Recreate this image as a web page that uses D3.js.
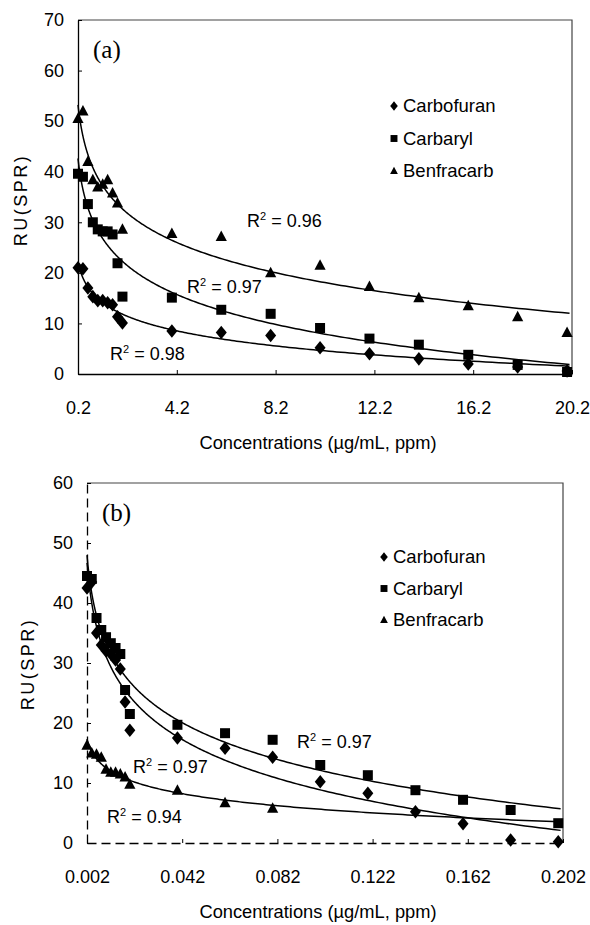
<!DOCTYPE html>
<html>
<head>
<meta charset="utf-8">
<script src="https://cdn.jsdelivr.net/npm/d3@7"></script>
<style>
  body { margin: 0; background: #fff; }
  svg { display: block; font-family: "Liberation Sans", Arial, sans-serif; }
</style>
</head>
<body>
<svg id="chart" width="590" height="925"></svg>
<script>
// ---- data ----
// panel (a), concentrations in ug/mL
const concA = [0.2, 0.4, 0.6, 0.8, 1.0, 1.2, 1.4, 1.6, 1.8, 2.0, 4, 6, 8, 10, 12, 14, 16, 18, 20];
const carbofuranA = [21, 20.8, 17, 15.3, 14.5, 14.5, 14.1, 13.7, 11.3, 10.1, 8.5, 8.2, 7.6, 5.2, 4.0, 3.0, 2.0, 1.4, 0.6];
const carbarylA = [39.6, 39, 33.6, 30, 28.6, 28.2, 28.2, 27.6, 21.9, 15.3, 15.1, 12.7, 11.9, 9.1, 7.0, 5.8, 3.8, 1.8, 0.4];
const benfracarbA = [50.5, 52, 42, 38.4, 37, 37.5, 38.4, 35.8, 33.8, 28.6, 27.8, 27.2, 20, 21.5, 17.3, 15.1, 13.5, 11.3, 8.2];
const xTicksA = [0.2, 4.2, 8.2, 12.2, 16.2, 20.2];
const yTicksA = [0, 10, 20, 30, 40, 50, 60, 70];

// panel (b)
const concB = [0.002, 0.004, 0.006, 0.008, 0.010, 0.012, 0.014, 0.016, 0.018, 0.020, 0.04, 0.06, 0.08, 0.10, 0.12, 0.14, 0.16, 0.18, 0.20];
const carbofuranB = [42.5, 43.5, 35, 33, 32, 31.5, 30.5, 29, 23.5, 18.8, 17.5, 15.8, 14.3, 10.2, 8.3, 5.2, 3.2, 0.5, 0.2];
const carbarylB = [44.5, 44, 37.5, 35.5, 34.3, 33.3, 32.5, 31.5, 25.5, 21.5, 19.7, 18.3, 17.2, 13, 11.3, 8.8, 7.2, 5.5, 3.3];
const benfracarbB = [16.3, 15, 14.8, 14.3, 12.3, 11.8, 11.8, 11.5, 11, 9.8, 8.8, 6.7, 5.8];
const xTicksB = [0.002, 0.042, 0.082, 0.122, 0.162, 0.202];
const yTicksB = [0, 10, 20, 30, 40, 50, 60];

const seriesNames = ["Carbofuran", "Carbaryl", "Benfracarb"];
const r2A = ["0.98", "0.97", "0.96"];
const r2B = ["0.97", "0.97", "0.94"];

// ---- marker shapes ----
const diamond = {
  draw(ctx, size) {
    const s = Math.sqrt(size), w = s * 0.55, h = s * 0.68;
    ctx.moveTo(0, -h); ctx.lineTo(w, 0); ctx.lineTo(0, h); ctx.lineTo(-w, 0); ctx.closePath();
  }
};
const square = {
  draw(ctx, size) {
    const h = Math.sqrt(size) / 2;
    ctx.rect(-h, -h, 2 * h, 2 * h);
  }
};
const triangle = {
  draw(ctx, size) {
    const s = Math.sqrt(size);
    ctx.moveTo(0, -s * 0.6); ctx.lineTo(s * 0.56, s * 0.45); ctx.lineTo(-s * 0.56, s * 0.45); ctx.closePath();
  }
};
const shapes = [diamond, square, triangle];

// Excel style logarithmic trendline: y = a + b ln(x)
function logFit(xs, ys) {
  const lx = xs.map(Math.log);
  const mx = d3.mean(lx), my = d3.mean(ys);
  const b = d3.sum(lx, (l, i) => (l - mx) * (ys[i] - my)) / d3.sum(lx, l => (l - mx) * (l - mx));
  const a = my - b * mx;
  return x => a + b * Math.log(x);
}

const svg = d3.select("#chart");

function drawPanel(p) {
  const x = d3.scaleLinear().domain(p.xDomain).range(p.xRange);
  const y = d3.scaleLinear().domain(p.yDomain).range(p.yRange);
  const g = svg.append("g");

  // frame top / right
  g.append("path")
    .attr("d", `M${p.xRange[0]},${p.yRange[1]}H${p.xRange[1]}V${p.yRange[0]}`)
    .attr("fill", "none").attr("stroke", "#444").attr("stroke-width", 1.2);

  const xAxis = d3.axisBottom(x).tickValues(p.xTicks).tickSizeInner(-4).tickSizeOuter(0)
    .tickPadding(27).tickFormat(d => d3.format(p.xFmt)(d));
  const yAxis = d3.axisLeft(y).tickValues(p.yTicks).tickSizeInner(-4).tickSizeOuter(0)
    .tickPadding(14);

  const gx = g.append("g").attr("transform", `translate(0,${p.yRange[0]})`).call(xAxis);
  const gy = g.append("g").attr("transform", `translate(${p.xRange[0]},0)`).call(yAxis);
  [gx, gy].forEach(a => {
    a.select(".domain").attr("stroke", "#000").attr("stroke-width", 1.3)
      .attr("stroke-dasharray", p.dashed ? "9,5" : null);
    a.selectAll(".tick line").attr("stroke", "#000");
    a.selectAll(".tick text").attr("font-size", 18).attr("fill", "#000")
      .attr("font-family", "'Liberation Sans', Arial, sans-serif");
  });

  // axis titles
  g.append("text")
    .attr("x", 318).attr("y", p.yRange[0] + 75)
    .attr("text-anchor", "middle").attr("font-size", 18.3)
    .text("Concentrations (\u00b5g/mL, ppm)");
  g.append("text")
    .attr("transform", `translate(${p.yLabelX},${p.yLabelY}) rotate(-90)`)
    .attr("text-anchor", "middle").attr("font-size", 18).attr("letter-spacing", 2.5)
    .text("RU(SPR)");

  // panel letter
  g.append("text")
    .attr("x", p.letterPos[0]).attr("y", p.letterPos[1])
    .attr("font-family", "'Liberation Serif', 'Times New Roman', serif").attr("font-size", 25)
    .text(p.letter);

  // trendlines
  const line = d3.line().x(d => x(d[0])).y(d => y(d[1]));
  const x0 = p.xDomain[0], x1 = p.xDomain[1] - (p.xDomain[1] - p.xDomain[0]) * 0.005;
  const xs = d3.range(300).map(i => x0 * Math.pow(x1 / x0, i / 299));
  p.series.forEach(vals => {
    const f = logFit(p.conc.slice(0, vals.length), vals);
    g.append("path")
      .attr("d", line(xs.map(v => [v, f(v)])))
      .attr("fill", "none").attr("stroke", "#000").attr("stroke-width", 1.5);
  });

  // markers
  p.series.forEach((vals, si) => {
    g.append("g").selectAll("path")
      .data(vals)
      .join("path")
      .attr("transform", (d, i) => `translate(${x(p.conc[i])},${y(d)})`)
      .attr("d", d3.symbol().type(shapes[si]).size(100))
      .attr("fill", "#000");
  });

  // R^2 labels
  p.r2.forEach((r, i) => {
    const t = g.append("text")
      .attr("x", p.r2Pos[i][0]).attr("y", p.r2Pos[i][1])
      .attr("font-size", 18);
    t.append("tspan").text("R");
    t.append("tspan").attr("font-size", 11).attr("dy", -7).text("2");
    t.append("tspan").attr("dy", 7).text(" = " + r);
  });

  // legend
  const lg = g.append("g");
  seriesNames.forEach((name, i) => {
    const yy = p.legendPos[1] + i * p.legendStep;
    lg.append("path")
      .attr("transform", `translate(${p.legendPos[0]},${yy})`)
      .attr("d", d3.symbol().type(shapes[i]).size(48))
      .attr("fill", "#000");
    lg.append("text")
      .attr("x", p.legendPos[0] + 9).attr("y", yy).attr("dy", "0.35em")
      .attr("font-size", 18.5).text(name);
  });
}

drawPanel({
  xDomain: [0.2, 20.2], yDomain: [0, 70],
  xRange: [78, 572], yRange: [374, 20],
  xTicks: xTicksA, yTicks: yTicksA, xFmt: ".1f",
  conc: concA, series: [carbofuranA, carbarylA, benfracarbA],
  r2: r2A, r2Pos: [[110, 360], [187, 293], [247, 227]],
  letter: "(a)", letterPos: [93, 58],
  legendPos: [394, 106], legendStep: 32.5,
  yLabelX: 27, yLabelY: 200, dashed: false
});

drawPanel({
  xDomain: [0.002, 0.202], yDomain: [0, 60],
  xRange: [87, 563], yRange: [843, 483],
  xTicks: xTicksB, yTicks: yTicksB, xFmt: ".3f",
  conc: concB, series: [carbofuranB, carbarylB, benfracarbB],
  r2: r2B, r2Pos: [[133, 773], [297, 748], [107, 823]],
  letter: "(b)", letterPos: [102, 521],
  legendPos: [384, 557], legendStep: 31.5,
  yLabelX: 34, yLabelY: 664, dashed: true
});
</script>
</body>
</html>
